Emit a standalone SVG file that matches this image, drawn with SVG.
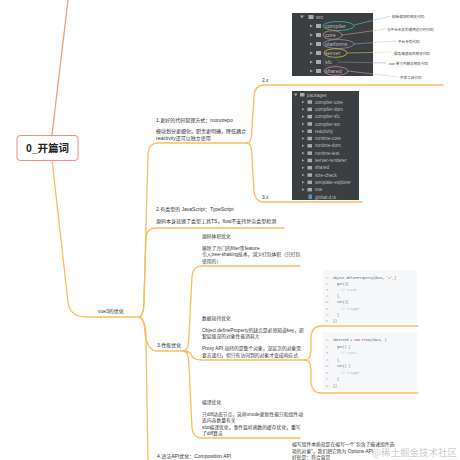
<svg xmlns="http://www.w3.org/2000/svg" width="460" height="460" viewBox="0 0 460 460">
<style>
.t{font-family:"Liberation Sans","Noto Sans CJK SC",sans-serif;fill:#333;font-size:4.8px}
.m{font-family:"Liberation Sans","Noto Sans CJK SC",sans-serif;fill:#333;font-size:5px}
.ln{fill:none;stroke:#fabd5e;stroke-width:1.3;stroke-linecap:round}
.ide{fill:#3c3f41}
.it{font-family:"Liberation Sans",sans-serif;fill:#bbbbbb;font-size:5.5px}
.pk{font-family:"Liberation Sans",sans-serif;fill:#bbbbbb;font-size:4.6px}
.ar{fill:#a0a0a0}
.fd{fill:#a9a9a9}
.an{font-family:"Liberation Sans","Noto Sans CJK SC",sans-serif;fill:#444;font-size:3.6px}
.code{font-family:"Liberation Mono",monospace;font-size:3.2px;fill:#555}
.num{fill:#aaa}
.cm{fill:#b0b0b0}
</style>
<g id="connectors">
<path d="M68,0 L52,135" fill="none" stroke="#f69c7c" stroke-width="1.3"/>
<path class="ln" d="M52,160 L68,302 Q70,317 86,317 L140,317"/>
<path class="ln" d="M139,317 C143,316 144,310 144,300 L148,153 Q149,143 158,143 L247,143"/>
<path class="ln" d="M139,317 C143,316 144,310 144,300 L146,237 Q147,228 156,228 L284,228"/>
<path class="ln" d="M139,317 C143,318 144,322 145,332 Q147,351 157,351 L183,351"/>
<path class="ln" d="M139,317 C143,318 146,325 146,340 L148,462"/>
<path class="ln" d="M247,143 C251,143 252,137 252,128 L254,96 Q255,85 264,85 L443,85"/>
<path class="ln" d="M247,143 C251,143 252,149 252,158 L254,191 Q255,202 264,202 L362,202"/>
<path class="ln" d="M183,351 C187,351 189,345 189,335 L192,276 Q193,266 202,266 L300,266"/>
<path class="ln" d="M183,351 Q190,351 192,356 Q194,360 202,360 L305,360"/>
<path class="ln" d="M183,351 C187,351 189,357 189,367 L192,428 Q193,438 202,438 L300,438"/>
<path class="ln" d="M305,360 C309,360 311,356 311,348 L311,337 Q312,326 321,326 L418,326"/>
<path class="ln" d="M305,360 C309,360 311,364 311,372 L311,382 Q312,393 321,393 L418,393"/>
</g>
<g id="root">
<rect x="17" y="135.5" width="61" height="25" rx="3" fill="#fff" stroke="#f08c8c" stroke-width="1"/>
<text x="47.5" y="152" text-anchor="middle" font-family="Liberation Sans,Noto Sans CJK SC,sans-serif" font-weight="bold" font-size="10.5" fill="#222">0_开篇词</text>
</g>
<g id="vue3">
<text x="98" y="313" class="m" font-size="6">vue3的优化</text>
</g>
<g id="n1">
<text x="156" y="122" class="m">1.更好的代码管理方式：monorepo</text>
<text x="156" y="133" class="m">模块划分更细化，职责更明确，降低耦合</text>
<text x="156" y="140" class="m">reactivity还可以独立使用</text>
</g>
<g id="n1-2x">
<text x="262" y="82" class="t">2.x</text>
<rect x="292" y="13" width="81" height="63" class="ide"/>
<path class="ar" d="M300,15.5 L304,15.5 L302,18.5 Z"/>
<rect x="308.5" y="15" width="5" height="4" class="fd"/>
<text x="316" y="19" class="it">src</text>
<g>
<path class="ar" d="M310,24.5 L313,26 L310,27.5 Z"/><rect x="316" y="24" width="5" height="4" class="fd"/><text x="325" y="28" class="it">compiler</text>
<path class="ar" d="M310,33.5 L313,35 L310,36.5 Z"/><rect x="316" y="33" width="5" height="4" class="fd"/><text x="325" y="37" class="it">core</text>
<path class="ar" d="M310,42.5 L313,44 L310,45.5 Z"/><rect x="316" y="42" width="5" height="4" class="fd"/><text x="325" y="46" class="it">platforms</text>
<path class="ar" d="M310,51.5 L313,53 L310,54.5 Z"/><rect x="316" y="51" width="5" height="4" class="fd"/><text x="325" y="55" class="it">server</text>
<path class="ar" d="M310,60.5 L313,62 L310,63.5 Z"/><rect x="316" y="60" width="5" height="4" class="fd"/><text x="325" y="64" class="it">sfc</text>
<path class="ar" d="M310,69.5 L313,71 L310,72.5 Z"/><rect x="316" y="69" width="5" height="4" class="fd"/><text x="325" y="73" class="it">shared</text>
</g>
<ellipse cx="338.5" cy="26" rx="15.5" ry="4.5" fill="none" stroke="#3fb89e" stroke-width="0.8"/>
<ellipse cx="332.5" cy="35" rx="9.5" ry="4.3" fill="none" stroke="#d0866a" stroke-width="0.8"/>
<ellipse cx="338.5" cy="44" rx="15.5" ry="4.5" fill="none" stroke="#8b8ba6" stroke-width="0.8"/>
<ellipse cx="335.5" cy="53" rx="11.5" ry="4.3" fill="none" stroke="#d8bb4a" stroke-width="0.8"/>
<ellipse cx="331" cy="62" rx="8" ry="4.3" fill="none" stroke="#5a5a5a" stroke-width="0.8"/>
<ellipse cx="336" cy="71" rx="12" ry="4.3" fill="none" stroke="#d27fa6" stroke-width="0.8"/>
<g stroke-width="0.5" fill="none">
<path d="M354,25 L391,16" stroke="#7fd3c0"/>
<path d="M342,35 L386,29" stroke="#eab09a"/>
<path d="M354,44 L396,41" stroke="#b8b8c8"/>
<path d="M347,53 L392,52" stroke="#ecd68a"/>
<path d="M339,62 L386,63" stroke="#999"/>
<path d="M348,71 L398,77" stroke="#e8b0c8"/>
</g>
<text x="392" y="17.5" class="an">模板编译的相关代码</text>
<text x="387" y="30.5" class="an">与平台无关的通用运行时代码</text>
<text x="398" y="42.5" class="an">平台专有代码</text>
<text x="394" y="54.5" class="an">服务端渲染的相关代码</text>
<text x="388" y="64.5" class="an">.vue 单文件解析相关代码</text>
<text x="400" y="79" class="an">共享工具代码</text>
</g>
<g id="n1-3x">
<text x="262" y="199" class="t">3.x</text>
<rect x="292" y="91" width="67" height="109" class="ide"/>
<path class="ar" d="M294,93.5 L297.5,93.5 L295.75,96.5 Z"/>
<rect x="300" y="93" width="4.5" height="3.5" class="fd"/>
<text x="307" y="96.6" class="pk">packages</text>
<g class="pk">
<text x="315" y="103.6">compiler-core</text>
<text x="315" y="110.9">compiler-dom</text>
<text x="315" y="118.2">compiler-sfc</text>
<text x="315" y="125.5">compiler-ssr</text>
<text x="315" y="132.8">reactivity</text>
<text x="315" y="140.1">runtime-core</text>
<text x="315" y="147.4">runtime-dom</text>
<text x="315" y="154.7">runtime-test</text>
<text x="315" y="162">server-renderer</text>
<text x="315" y="169.3">shared</text>
<text x="315" y="176.6">size-check</text>
<text x="315" y="183.9">template-explorer</text>
<text x="315" y="191.2">vue</text>
<text x="315" y="198.5">global.d.ts</text>
</g>
<g class="ar">
<path d="M302,100.7 L304.6,102 L302,103.3 Z"/><path d="M302,108 L304.6,109.3 L302,110.6 Z"/><path d="M302,115.3 L304.6,116.6 L302,117.9 Z"/><path d="M302,122.6 L304.6,123.9 L302,125.2 Z"/><path d="M302,129.9 L304.6,131.2 L302,132.5 Z"/><path d="M302,137.2 L304.6,138.5 L302,139.8 Z"/><path d="M302,144.5 L304.6,145.8 L302,147.1 Z"/><path d="M302,151.8 L304.6,153.1 L302,154.4 Z"/><path d="M302,159.1 L304.6,160.4 L302,161.7 Z"/><path d="M302,166.4 L304.6,167.7 L302,169 Z"/><path d="M302,173.7 L304.6,175 L302,176.3 Z"/><path d="M302,181 L304.6,182.3 L302,183.6 Z"/><path d="M302,188.3 L304.6,189.6 L302,190.9 Z"/>
</g>
<g class="fd">
<rect x="307.5" y="100.3" width="4.5" height="3.5"/><rect x="307.5" y="107.6" width="4.5" height="3.5"/><rect x="307.5" y="114.9" width="4.5" height="3.5"/><rect x="307.5" y="122.2" width="4.5" height="3.5"/><rect x="307.5" y="129.5" width="4.5" height="3.5"/><rect x="307.5" y="136.8" width="4.5" height="3.5"/><rect x="307.5" y="144.1" width="4.5" height="3.5"/><rect x="307.5" y="151.4" width="4.5" height="3.5"/><rect x="307.5" y="158.7" width="4.5" height="3.5"/><rect x="307.5" y="166" width="4.5" height="3.5"/><rect x="307.5" y="173.3" width="4.5" height="3.5"/><rect x="307.5" y="180.6" width="4.5" height="3.5"/><rect x="307.5" y="187.9" width="4.5" height="3.5"/>
</g>
<rect x="308.5" y="194.5" width="3.5" height="4.5" fill="#5a8fc8"/>
</g>
<g id="n2">
<text x="156" y="211" class="m">2.有类型的 JavaScript：TypeScript</text>
<text x="156" y="223" class="m">源码本身就换了类型工具TS，flow不支持复杂类型检测</text>
</g>
<g id="n3">
<text x="157" y="347" class="m">3.性能优化</text>
</g>
<g id="n3-1">
<text x="202" y="238" class="t">源码体积优化</text>
<text x="202" y="249.5" class="t">移除了冷门的filter等feature</text>
<text x="202" y="256" class="t">引入tree-shaking技术，减少打包体积（只打包</text>
<text x="202" y="262.5" class="t">使用的）</text>
</g>
<g id="n3-2">
<text x="202" y="320" class="t">数据劫持优化</text>
<text x="202" y="331.5" class="t">Object.defineProperty的缺点是必须知道key，嵌</text>
<text x="202" y="338" class="t">套层级深的对象性能消耗大</text>
<text x="202" y="350" class="t"> Proxy API 劫持的是整个对象，深层次的对象需</text>
<text x="202" y="356.5" class="t">要去递归，但只有访问到的对象才变成响应式</text>
</g>
<g id="code1">
<rect x="323" y="270" width="94" height="53" fill="#f6f7f9"/>
<g class="code">
<text x="326" y="278.5"><tspan class="num">1.</tspan><tspan x="333">Object.defineProperty(data, <tspan fill="#c0504d">'a'</tspan>,{</tspan></text>
<text x="326" y="284.7"><tspan class="num">2.</tspan><tspan x="337">get(){</tspan></text>
<text x="326" y="290.9"><tspan class="num">3.</tspan><tspan x="341" class="cm">// track</tspan></text>
<text x="326" y="297.1"><tspan class="num">4.</tspan><tspan x="337">},</tspan></text>
<text x="326" y="303.3"><tspan class="num">5.</tspan><tspan x="337">set(){</tspan></text>
<text x="326" y="309.5"><tspan class="num">6.</tspan><tspan x="341" class="cm">// trigger</tspan></text>
<text x="326" y="315.7"><tspan class="num">7.</tspan><tspan x="337">}</tspan></text>
<text x="326" y="321.9"><tspan class="num">8.</tspan><tspan x="333">})</tspan></text>
</g>
</g>
<g id="code2">
<rect x="323" y="332" width="94" height="58" fill="#f6f7f9"/>
<g class="code">
<text x="326" y="341"><tspan class="num">1.</tspan><tspan x="333">observed = <tspan fill="#a626a4">new</tspan> Proxy(data, {</tspan></text>
<text x="326" y="347.5"><tspan class="num">2.</tspan><tspan x="337">get() {</tspan></text>
<text x="326" y="354"><tspan class="num">3.</tspan><tspan x="341" class="cm">// track</tspan></text>
<text x="326" y="360.5"><tspan class="num">4.</tspan><tspan x="337">},</tspan></text>
<text x="326" y="367"><tspan class="num">5.</tspan><tspan x="337">set() {</tspan></text>
<text x="326" y="373.5"><tspan class="num">6.</tspan><tspan x="341" class="cm">// trigger</tspan></text>
<text x="326" y="380"><tspan class="num">7.</tspan><tspan x="337">}</tspan></text>
<text x="326" y="386.5"><tspan class="num">8.</tspan><tspan x="333">})</tspan></text>
</g>
</g>
<g id="n3-3">
<text x="202" y="404" class="t">编译优化</text>
<text x="202" y="415.5" class="t">只diff动态节点，这样vnode更新性能只和组件动</text>
<text x="202" y="422" class="t">态内容数量有关</text>
<text x="202" y="428.5" class="t">slot编译优化，事件监听函数的缓存优化，重写</text>
<text x="202" y="435" class="t">了diff算法</text>
</g>
<g id="n4">
<text x="157" y="457.5" class="m">4.语法API优化：Composition API</text>
</g>
<g id="n4-1">
<text x="292" y="446" class="t">编写组件本质就是在编写一个“包含了描述组件选</text>
<text x="292" y="452.5" class="t">项的对象”，我们把它称为 Options API</text>
<text x="292" y="459" class="t">好处是：符合直觉</text>
</g>
<text x="372" y="456" font-family="Noto Sans CJK SC,sans-serif" font-size="9.5" fill="#c4c4c4" opacity="0.85">@稀土掘金技术社区</text>
</svg>
